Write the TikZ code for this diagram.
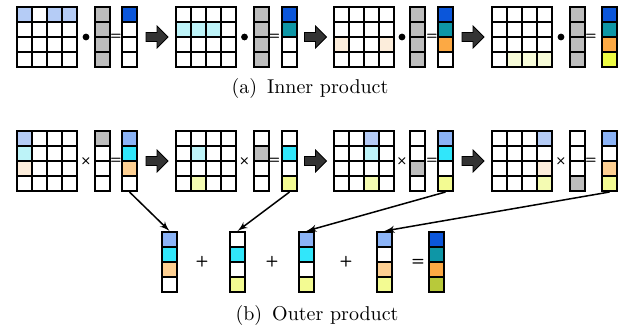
\documentclass[tikz,border=0pt]{standalone}
\usetikzlibrary{arrows}

% cell colours
\definecolor{vgray}{HTML}{BDBDBD}
\definecolor{lblue}{HTML}{B5CCF6}
\definecolor{lcyan}{HTML}{BDF3F8}
\definecolor{lpeach}{HTML}{FCEDDB}
\definecolor{lyelA}{HTML}{F7FBD8}
\definecolor{lyelB}{HTML}{F4FBB2}
\definecolor{dblue}{HTML}{0B56DA}
\definecolor{dteal}{HTML}{0E96A6}
\definecolor{dorange}{HTML}{FCA944}
\definecolor{dyellow}{HTML}{EDFB44}
\definecolor{dolive}{HTML}{B8C93A}
\definecolor{mblue}{HTML}{8BB3F6}
\definecolor{mcyan}{HTML}{31E6FA}
\definecolor{mpeach}{HTML}{FDCF92}
\definecolor{myellow}{HTML}{F3FB92}
\definecolor{arrowgray}{HTML}{333333}

% one column of four cells: name, x, y of top cell, fills
\newcommand{\vcells}[4]{%
  \foreach \f [count=\k] in {#4}
    \node[cell, fill=\f] (#1-\k) at (#2, #3+15*\k-15) {};
}
% 4x4 grid: name, x, y of top left cell, highlighted r/c/colour
\newcommand{\grid}[4]{%
  \foreach \r in {1,...,4}
    \foreach \c in {1,...,4}
      \node[cell] (#1-\r-\c) at (#2+15*\c-15, #3+15*\r-15) {};
  \foreach \r/\c/\f in {#4}
    \node[cell, fill=\f] at (#1-\r-\c) {};
}

\begin{document}
\begin{tikzpicture}[x=0.5pt,y=-0.5pt]

\tikzset{cell/.style = {shape=rectangle,draw,line width=1pt,minimum size=7.5pt,inner sep=0pt,fill=white}}
\tikzset{dot/.style = {shape=circle,fill,inner sep=0pt,minimum size=3.4pt}}
\tikzset{op/.style = {inner sep=0pt,font=\fontsize{6.5}{7}\sffamily\bfseries}}
\tikzset{bigop/.style = {inner sep=0pt,font=\fontsize{7.5}{8}\sffamily\bfseries}}
\tikzset{edge/.style = {->,> = latex',line width=0.75pt}}
\tikzset{blockarr/.pic = {
  \draw[fill=arrowgray,line width=0.4pt] (-11,-4.5) -- (0,-4.5) -- (0,-11) -- (11,0)
    -- (0,11) -- (0,4.5) -- (-11,4.5) -- cycle;}}

\useasboundingbox (0,0) rectangle (628,329);

% (a) inner product
\grid{am1}{24.5}{14.5}{1/1/lblue,1/3/lblue,1/4/lblue}
\vcells{av1}{102.5}{14.5}{vgray,vgray,vgray,vgray}
\vcells{ar1}{129.5}{14.5}{dblue,white,white,white}

\grid{am2}{183}{14.5}{2/1/lcyan,2/2/lcyan,2/3/lcyan}
\vcells{av2}{261}{14.5}{vgray,vgray,vgray,vgray}
\vcells{ar2}{289.5}{14.5}{dblue,dteal,white,white}

\grid{am3}{341}{14.5}{3/1/lpeach,3/4/lpeach}
\vcells{av3}{417.5}{14.5}{vgray,vgray,vgray,vgray}
\vcells{ar3}{445.5}{14.5}{dblue,dteal,dorange,white}

\grid{am4}{499.5}{14.5}{4/2/lyelA,4/3/lyelA,4/4/lyelA}
\vcells{av4}{577}{14.5}{vgray,vgray,vgray,vgray}
\vcells{ar4}{609.5}{14.5}{dblue,dteal,dorange,dyellow}

\foreach \x [count=\i] in {17,175.5,333,492}{
  \node[dot] (adot\i) at (\x+69,37) {};
  \node[op] (aeq\i) at (\x+99,37) {=};
}
\foreach \x in {17,175.5,333}
  \pic at (\x+140,37) {blockarr};

\node (capa) at (310,88) {(a)\enspace Inner product};

% (b) outer product
\grid{bm1}{24.5}{138.5}{1/1/lblue,2/1/lcyan,3/1/lpeach}
\vcells{bv1}{102.5}{138.5}{vgray,white,white,white}
\vcells{br1}{129.5}{138.5}{mblue,mcyan,mpeach,white}

\grid{bm2}{183}{138.5}{2/2/lcyan,4/2/lyelB}
\vcells{bv2}{261}{138.5}{white,vgray,white,white}
\vcells{br2}{289.5}{138.5}{white,mcyan,white,myellow}

\grid{bm3}{341}{138.5}{1/3/lblue,2/3/lcyan,4/3/lyelB}
\vcells{bv3}{417.5}{138.5}{white,white,vgray,white}
\vcells{br3}{445.5}{138.5}{mblue,mcyan,white,myellow}

\grid{bm4}{499.5}{138.5}{1/4/lblue,3/4/lpeach,4/4/lyelB}
\vcells{bv4}{577}{138.5}{white,white,white,vgray}
\vcells{br4}{609.5}{138.5}{mblue,white,mpeach,myellow}

\foreach \x [count=\i] in {17,175.5,333,492}{
  \node[op] (bx\i) at (\x+69,161) {×};
  \node[op] (beq\i) at (\x+99,161) {=};
}
\foreach \x in {17,175.5,333}
  \pic at (\x+140,161) {blockarr};

% partial sums
\vcells{bs1}{169.5}{239.5}{mblue,mcyan,mpeach,white}
\vcells{bs2}{237.5}{239.5}{white,mcyan,white,myellow}
\vcells{bs3}{306.5}{239.5}{mblue,mcyan,white,myellow}
\vcells{bs4}{384.5}{239.5}{mblue,white,mpeach,myellow}
\vcells{bsum}{436}{239.5}{dblue,dteal,dorange,dolive}

\foreach \x [count=\i] in {202,272,346}
  \node[bigop] (plus\i) at (\x,262) {+};
\node[bigop] (sumeq) at (418,262) {=};

\foreach \i in {1,...,4}
  \draw[edge] (br\i-4.south) -- (bs\i-1.north);

\node (capb) at (317,315) {(b)\enspace Outer product};
\end{tikzpicture}
\end{document}
